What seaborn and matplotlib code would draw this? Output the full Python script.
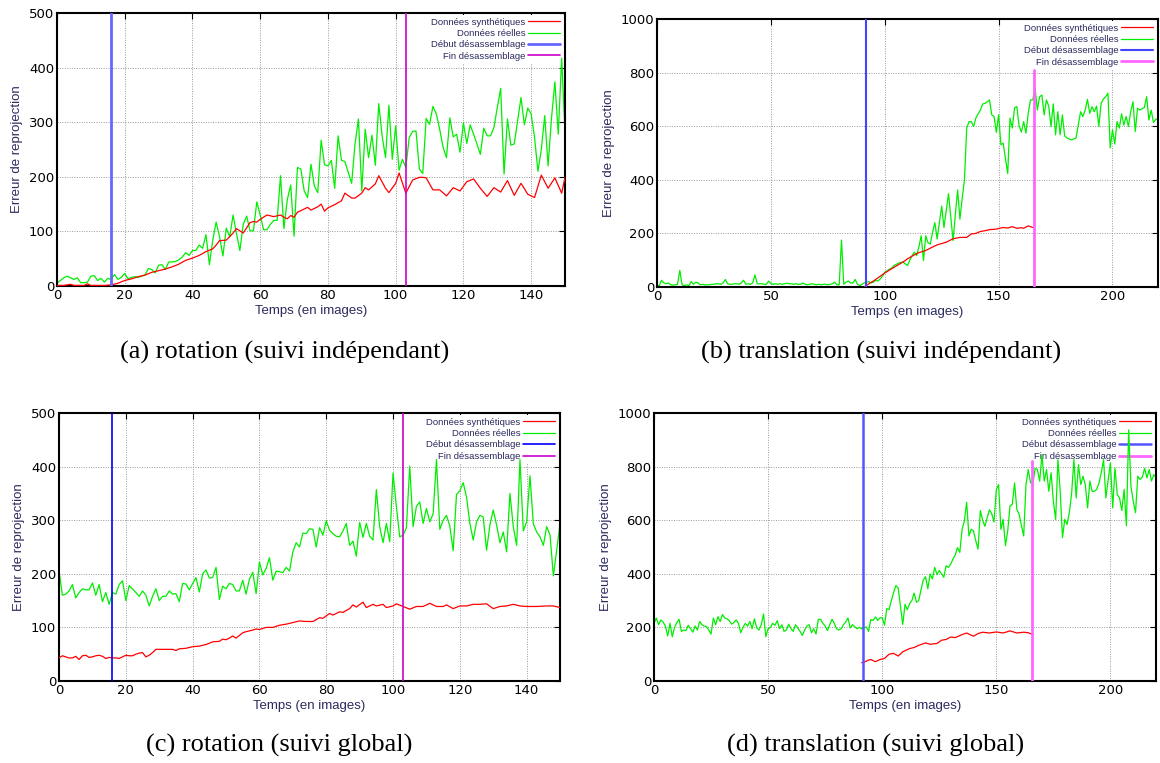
import numpy as np
import matplotlib
matplotlib.use("Agg")
import matplotlib.pyplot as plt
import seaborn as sns

# ---------------- data ----------------
# (a) rotation, suivi independant
a_real_x = list(range(0, 151))
a_real_y = [5, 10, 15, 18, 15, 12, 15, 6, 6, 7, 18, 19, 10, 14, 7, 14, 12, 21, 12, 16,
            23, 13, 16, 17, 16, 18, 20, 32, 30, 24, 38, 39, 30, 44, 44, 45, 48, 53, 61, 56,
            65, 65, 75, 69, 94, 39, 84, 117, 90, 55, 106, 90, 130, 96, 65, 113, 128, 101, 101, 154,
            130, 103, 103, 113, 120, 120, 202, 105, 158, 185, 91, 217, 214, 174, 162, 223, 183, 171, 267, 222,
            220, 230, 179, 275, 230, 228, 208, 188, 260, 306, 174, 287, 235, 276, 221, 334, 275, 235, 331, 232,
            293, 212, 232, 217, 272, 283, 284, 214, 206, 307, 296, 329, 315, 287, 254, 235, 308, 273, 278, 245,
            299, 261, 295, 278, 260, 241, 289, 275, 275, 290, 327, 362, 205, 306, 258, 260, 302, 345, 295, 326,
            315, 272, 210, 250, 312, 220, 307, 374, 278, 417, 281]
a_synth_x = [0, 2, 4, 5, 8, 9, 10, 12, 14, 16, 18, 20, 22, 24, 26, 28, 30, 32, 34, 36,
             38, 40, 42, 44, 46, 47, 48, 50, 52, 53, 55, 57, 58, 59, 60, 62, 64, 66, 67, 68,
             69, 70, 71, 73, 74, 75, 77, 78, 79, 80, 82, 84, 85, 87, 88, 90, 91, 92, 94, 95,
             97, 98, 100, 101, 103, 105, 107, 108, 109, 111, 113, 115, 117, 119, 121, 123, 125, 127, 129, 131,
             133, 135, 137, 139, 141, 143, 145, 147, 149, 150]
a_synth_y = [1, 1, 3, 1, 1, 4, 1, 1, 1, 2, 5, 10, 13, 17, 20, 25, 28, 31, 35, 40,
             47, 51, 56, 63, 68, 75, 83, 84, 97, 105, 97, 116, 118, 117, 122, 130, 127, 130, 126, 123,
             129, 126, 135, 141, 144, 139, 145, 150, 137, 143, 149, 156, 170, 161, 161, 170, 180, 176, 187, 202,
             179, 171, 188, 207, 170, 194, 199, 199, 198, 176, 176, 165, 180, 174, 191, 196, 179, 164, 180, 172,
             193, 166, 188, 168, 162, 203, 179, 198, 170, 199]

# (b) translation, suivi independant
b_real_x = list(range(0, 221))
b_real_y = [5, 5, 25, 15, 12, 15, 8, 7, 8, 10, 62, 8, 5, 8, 5, 20, 10, 18, 15, 8,
            10, 8, 8, 8, 10, 10, 12, 12, 10, 15, 28, 12, 10, 10, 12, 12, 10, 15, 25, 10,
            12, 10, 15, 45, 12, 12, 12, 10, 10, 22, 12, 10, 12, 10, 12, 10, 12, 14, 12, 12,
            10, 12, 10, 10, 15, 10, 8, 10, 12, 10, 8, 10, 8, 10, 10, 8, 10, 12, 18, 8,
            8, 175, 10, 18, 22, 15, 15, 28, 10, 5, 10, 15, 18, 20, 15, 18, 25, 22, 30, 40,
            55, 60, 66, 70, 80, 84, 89, 91, 93, 86, 80, 100, 117, 130, 117, 150, 191, 99, 191, 165,
            160, 204, 240, 179, 240, 302, 222, 285, 348, 260, 173, 270, 362, 253, 330, 401, 593, 617, 617, 599,
            630, 646, 660, 683, 685, 691, 698, 642, 636, 577, 642, 531, 537, 480, 423, 630, 593, 669, 673, 600,
            578, 617, 574, 648, 698, 698, 744, 660, 710, 716, 642, 698, 675, 599, 683, 568, 654, 568, 642, 564,
            556, 552, 549, 552, 556, 605, 654, 636, 660, 700, 648, 673, 654, 675, 599, 685, 701, 710, 723, 519,
            586, 533, 617, 593, 646, 604, 636, 599, 654, 691, 580, 667, 660, 665, 670, 710, 623, 660, 614, 626,
            626]
b_synth_x = [91, 93, 95, 98, 100, 103, 105, 108, 110, 113, 115, 118, 120, 123, 125, 127, 130, 133, 136, 138,
             140, 142, 144, 146, 149, 152, 154, 156, 158, 160, 161, 163, 165]
b_synth_y = [0, 12, 22, 40, 52, 68, 78, 93, 105, 120, 128, 136, 145, 157, 162, 167, 180, 185, 185, 198,
             200, 207, 210, 214, 216, 222, 220, 225, 219, 221, 219, 228, 222]

# (c) rotation, suivi global
c_real_x = list(range(0, 151))
c_real_y = [205, 160, 162, 168, 180, 155, 165, 172, 170, 170, 183, 160, 180, 148, 165, 143, 165, 162, 180, 187,
            150, 178, 172, 165, 158, 168, 160, 140, 158, 172, 150, 158, 158, 168, 162, 163, 148, 182, 181, 170,
            182, 193, 166, 200, 207, 192, 193, 212, 152, 177, 172, 182, 180, 168, 168, 188, 162, 190, 203, 163,
            222, 198, 210, 230, 188, 205, 204, 202, 212, 205, 241, 258, 250, 276, 275, 284, 283, 250, 286, 272,
            299, 281, 275, 270, 269, 280, 294, 253, 261, 233, 296, 268, 294, 270, 263, 357, 288, 258, 294, 260,
            388, 325, 269, 272, 286, 401, 288, 326, 334, 294, 322, 297, 312, 413, 283, 300, 309, 289, 243, 348,
            355, 370, 343, 294, 263, 297, 309, 306, 244, 291, 319, 291, 258, 278, 241, 350, 288, 253, 413, 280,
            297, 383, 293, 278, 269, 253, 288, 272, 196, 244, 294]
c_synth_x = [0, 1, 2, 3, 4, 5, 6, 7, 8, 9, 10, 11, 12, 13, 14, 15, 16, 17, 18, 19,
             20, 21, 22, 23, 24, 25, 26, 27, 28, 29, 30, 32, 34, 35, 36, 38, 40, 42, 44, 46,
             48, 49, 50, 51, 52, 53, 54, 55, 56, 58, 59, 60, 62, 64, 66, 68, 70, 72, 74, 76,
             78, 79, 81, 82, 84, 85, 87, 88, 89, 91, 92, 94, 95, 97, 98, 100, 101, 103, 105, 107,
             109, 111, 113, 115, 116, 118, 120, 122, 124, 126, 128, 130, 132, 134, 136, 138, 140, 143, 146, 148,
             150]
c_synth_y = [43, 47, 45, 43, 43, 46, 40, 47, 48, 44, 45, 47, 48, 46, 42, 44, 43, 43, 42, 45,
             48, 47, 47, 50, 52, 53, 45, 48, 53, 59, 59, 59, 59, 57, 60, 61, 64, 65, 68, 73,
             74, 78, 77, 80, 84, 80, 85, 90, 92, 95, 97, 96, 100, 100, 104, 106, 109, 112, 111, 111,
             118, 117, 126, 123, 129, 128, 135, 142, 138, 147, 137, 143, 140, 143, 137, 140, 144, 139, 134, 139,
             139, 145, 139, 139, 142, 135, 140, 140, 143, 143, 144, 135, 139, 140, 143, 140, 139, 139, 140, 140,
             137]

# (d) translation, suivi global
d_real_x = list(range(0, 221))
d_real_y = [215, 235, 210, 228, 220, 205, 168, 215, 165, 200, 218, 230, 185, 190, 188, 208, 195, 182, 205, 190,
            222, 210, 205, 203, 190, 175, 235, 210, 240, 222, 248, 235, 232, 225, 212, 218, 228, 215, 180, 200,
            215, 205, 222, 195, 232, 198, 190, 210, 250, 165, 195, 200, 215, 208, 225, 195, 210, 185, 190, 212,
            195, 185, 210, 198, 185, 170, 190, 205, 210, 180, 195, 175, 230, 230, 215, 205, 188, 210, 230, 215,
            195, 190, 195, 210, 220, 235, 198, 210, 202, 195, 200, 195, 198, 202, 185, 229, 226, 239, 226, 235,
            236, 208, 270, 267, 300, 330, 356, 347, 280, 211, 286, 266, 288, 300, 328, 294, 300, 340, 377, 389,
            344, 399, 381, 424, 397, 412, 400, 387, 430, 424, 436, 455, 470, 498, 480, 566, 597, 667, 541, 566,
            560, 523, 492, 636, 600, 577, 609, 639, 624, 593, 714, 733, 566, 603, 505, 560, 653, 659, 739, 640,
            622, 580, 541, 733, 789, 740, 733, 794, 789, 746, 844, 746, 789, 708, 777, 671, 603, 826, 708, 535,
            603, 584, 628, 700, 826, 683, 807, 733, 764, 733, 646, 746, 708, 708, 715, 739, 777, 826, 683, 750,
            814, 646, 794, 696, 683, 636, 715, 579, 937, 727, 671, 628, 764, 752, 761, 794, 758, 789, 746, 770,
            760]
d_synth_x = [91, 92, 94, 95, 97, 99, 101, 103, 105, 107, 109, 112, 114, 116, 119, 121, 124, 126, 128, 130,
             132, 135, 137, 140, 142, 144, 147, 150, 153, 156, 159, 162, 164, 166]
d_synth_y = [68, 70, 78, 80, 72, 80, 84, 100, 103, 93, 109, 121, 125, 133, 142, 137, 140, 152, 155, 164,
             162, 173, 179, 167, 177, 182, 179, 183, 179, 187, 179, 182, 180, 173]

# events (debut / fin desassemblage)
a_events = [16, 103]
b_events = [91.6, 165.6]
c_events = [16, 103]
d_events = [91.8, 165.8]

labels = ["Données synthétiques", "Données réelles", "Début désassemblage", "Fin désassemblage"]
captions = ["(a) rotation (suivi indépendant)", "(b) translation (suivi indépendant)",
            "(c) rotation (suivi global)", "(d) translation (suivi global)"]

# ---------------- plotting ----------------
sns.set_style("white")
plt.rcParams["font.family"] = ["DejaVu Sans"]

navy = "#2b2a5e"
fig = plt.figure(figsize=(11.6, 7.63), dpi=100)

panels = [
    dict(rect=[0.0491, 0.6252, 0.438, 0.3578], real=(a_real_x, a_real_y), synth=(a_synth_x, a_synth_y),
         ev=a_events, xmax=150, ymax=500, xstep=20, ystep=100,
         blue=("#6666ff", 2.0), mag=("#cc00cc", 1.2), mag_top=500),
    dict(rect=[0.5664, 0.6239, 0.4319, 0.3512], real=(b_real_x, b_real_y), synth=(b_synth_x, b_synth_y),
         ev=b_events, xmax=220, ymax=1000, xstep=50, ystep=200,
         blue=("#4444ff", 1.5), mag=("#ff66ff", 2.0), mag_top=810),
    dict(rect=[0.0509, 0.1075, 0.4319, 0.3512], real=(c_real_x, c_real_y), synth=(c_synth_x, c_synth_y),
         ev=c_events, xmax=150, ymax=500, xstep=20, ystep=100,
         blue=("#0000ff", 1.2), mag=("#cc00cc", 1.2), mag_top=500),
    dict(rect=[0.5638, 0.1075, 0.4328, 0.3512], real=(d_real_x, d_real_y), synth=(d_synth_x, d_synth_y),
         ev=d_events, xmax=220, ymax=1000, xstep=50, ystep=200,
         blue=("#5555ff", 1.8), mag=("#ff66ff", 2.0), mag_top=820),
]

for p in panels:
    ax = fig.add_axes(p["rect"])
    sns.lineplot(x=p["synth"][0], y=p["synth"][1], ax=ax, color="#ff0000", lw=0.9,
                 label=labels[0], errorbar=None, zorder=3)
    sns.lineplot(x=p["real"][0], y=p["real"][1], ax=ax, color="#00ee00", lw=0.9,
                 label=labels[1], errorbar=None, zorder=2)
    ax.plot([p["ev"][0], p["ev"][0]], [0, p["ymax"]], color=p["blue"][0], lw=p["blue"][1],
            label=labels[2], zorder=4)
    ax.plot([p["ev"][1], p["ev"][1]], [0, p["mag_top"]], color=p["mag"][0], lw=p["mag"][1],
            label=labels[3], zorder=4)

    ax.set_xlim(0, p["xmax"])
    ax.set_ylim(0, p["ymax"])
    ax.set_xticks(np.arange(0, p["xmax"] + 1, p["xstep"]))
    ax.set_yticks(np.arange(0, p["ymax"] + 1, p["ystep"]))
    ax.grid(True, color="#999999", linestyle=(0, (1, 1.5)), lw=0.7)
    ax.set_axisbelow(True)
    ax.tick_params(direction="in", length=4, width=0.8, top=True, right=True,
                   labelsize=9.5, colors="black", pad=2)
    for s in ax.spines.values():
        s.set_color("black")
        s.set_linewidth(1.5)

    ax.set_xlabel("Temps (en images)", fontsize=9.5, color=navy, family="Liberation Sans", labelpad=2)
    ax.set_ylabel("Erreur de reprojection", fontsize=9.5, color=navy, family="Liberation Sans", labelpad=4)

    leg = ax.legend(loc="upper right", bbox_to_anchor=(1.0, 1.0), borderaxespad=0.25,
                    markerfirst=False, handlelength=3.4, handletextpad=0.3, labelspacing=0.25,
                    borderpad=0.25, frameon=True, facecolor="white", edgecolor="none", framealpha=1,
                    prop={"family": "Liberation Sans", "size": 6.8})
    leg.get_frame().set_linewidth(0)
    for t in leg.get_texts():
        t.set_color(navy)
    leg.set_zorder(1.5)

cap_pos = [(0.2457, 0.5387), (0.7597, 0.5387), (0.2405, 0.0236), (0.755, 0.0236)]
for (cx, cy), txt in zip(cap_pos, captions):
    fig.text(cx, cy, txt, ha="center", va="center", fontsize=19, family="Liberation Serif", color="black")

fig.savefig("out.png", dpi=100)
